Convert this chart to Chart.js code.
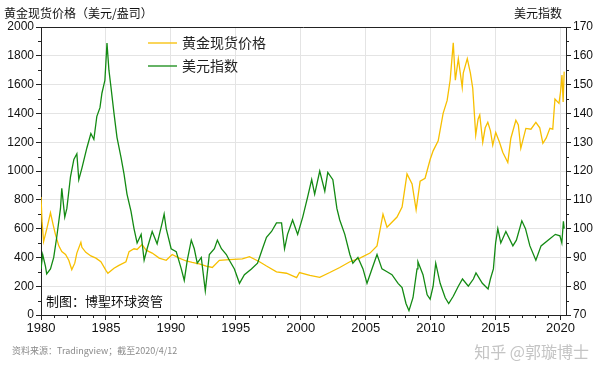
<!DOCTYPE html>
<html>
<head>
<meta charset="utf-8">
<script src="https://cdn.jsdelivr.net/npm/chart.js@4.4.0/dist/chart.umd.min.js"></script>
<style>
  html, body { margin: 0; padding: 0; background: #fff; }
  #wrap { width: 600px; height: 378px; position: relative; }
</style>
</head>
<body>
<div id="wrap"><canvas id="myChart" width="600" height="378"></canvas></div>
<script>
// gold spot price, USD/oz (left axis)
const goldYears = [1980.0, 1980.08, 1980.2, 1980.45, 1980.73, 1980.95, 1981.11, 1981.37, 1981.6, 1981.89,
  1982.14, 1982.37, 1982.6, 1982.76, 1983.07, 1983.15, 1983.45, 1983.84, 1984.23, 1984.61,
  1985.0, 1985.15, 1985.62, 1986.0, 1986.54, 1986.78, 1987.16, 1987.4, 1987.78, 1988.09,
  1988.56, 1989.1, 1989.64, 1990.1, 1990.64, 1991.18, 1991.64, 1992.18, 1992.72, 1993.19,
  1993.73, 1994.5, 1995.5, 1996.05, 1996.82, 1997.36, 1998.13, 1998.9, 1999.68, 1999.9,
  2000.7, 2001.46, 2002.23, 2003.0, 2003.78, 2004.55, 2005.33, 2005.87, 2006.33, 2006.64,
  2007.41, 2007.8, 2008.18, 2008.57, 2008.88, 2009.19, 2009.57, 2009.96, 2010.19, 2010.58,
  2010.96, 2011.27, 2011.5, 2011.74, 2011.9, 2012.13, 2012.43, 2012.51, 2012.82, 2013.06,
  2013.24, 2013.47, 2013.65, 2013.78, 2014.01, 2014.2, 2014.4, 2014.6, 2014.78, 2015.01,
  2015.3, 2015.55, 2015.94, 2016.17, 2016.56, 2016.75, 2016.94, 2017.33, 2017.72, 2018.1,
  2018.4, 2018.64, 2018.9, 2019.18, 2019.4, 2019.57, 2019.88, 2020.0, 2020.11, 2020.2, 2020.28];
const goldPrice = [820, 650, 510, 600, 710, 620, 560, 480, 440, 420,
  380, 315, 360, 430, 505, 470, 435, 410, 395, 370,
  310, 290, 325, 345, 370, 440, 460, 455, 490, 450,
  430, 395, 380, 420, 395, 375, 365, 355, 340, 330,
  380, 385, 390, 405, 370, 340, 300, 290, 260, 295,
  275, 262, 295, 330, 370, 395, 430, 480, 700, 610,
  680, 750, 980, 910, 730, 930, 950, 1080, 1140, 1210,
  1400, 1490, 1630, 1890, 1630, 1780, 1580, 1680, 1780, 1680,
  1575, 1250, 1360, 1390, 1200, 1300, 1338, 1280, 1180, 1268,
  1200, 1130, 1059, 1226, 1352, 1320, 1157, 1296, 1290, 1338,
  1300, 1192, 1230, 1296, 1290, 1500, 1470, 1550, 1666, 1480, 1690];

// US dollar index (right axis)
const usdYears = [1980.0, 1980.13, 1980.34, 1980.44, 1980.73, 1980.98, 1981.21, 1981.5, 1981.6, 1981.83,
  1981.99, 1982.27, 1982.53, 1982.76, 1982.91, 1983.15, 1983.53, 1983.84, 1984.07, 1984.3,
  1984.54, 1984.69, 1984.92, 1985.08, 1985.23, 1985.39, 1985.62, 1985.85, 1986.16, 1986.39,
  1986.62, 1986.93, 1987.16, 1987.4, 1987.71, 1987.94, 1988.17, 1988.56, 1988.94, 1989.33,
  1989.48, 1989.64, 1990.02, 1990.41, 1990.8, 1991.03, 1991.26, 1991.57, 1991.8, 1992.03,
  1992.34, 1992.65, 1992.96, 1993.35, 1993.58, 1993.89, 1994.27, 1994.5, 1994.89, 1995.28,
  1995.66, 1996.2, 1996.67, 1997.05, 1997.36, 1997.75, 1998.13, 1998.52, 1998.75, 1998.98,
  1999.37, 1999.76, 2000.15, 2000.53, 2000.84, 2001.07, 2001.46, 2001.85, 2002.08, 2002.47,
  2002.78, 2003.0, 2003.39, 2003.78, 2004.01, 2004.4, 2004.79, 2005.1, 2005.48, 2005.87,
  2006.25, 2006.64, 2007.02, 2007.49, 2007.8, 2008.1, 2008.33, 2008.64, 2008.95, 2009.02,
  2009.41, 2009.73, 2009.96, 2010.19, 2010.39, 2010.73, 2011.12, 2011.39, 2011.74, 2012.13,
  2012.45, 2012.9, 2013.29, 2013.49, 2013.98, 2014.42, 2014.6, 2014.83, 2015.0, 2015.17,
  2015.4, 2015.79, 2016.33, 2016.6, 2017.02, 2017.3, 2017.64, 2018.1, 2018.5, 2019.18,
  2019.6, 2019.95, 2020.1, 2020.22, 2020.28];
const usdIndex = [86, 91, 87, 84.3, 86, 90, 97, 107, 114, 104,
  107, 118, 124, 126, 117, 121, 128, 133, 131, 139,
  142, 147, 151.5, 164.4, 155, 149, 140, 131.7, 124.7, 119,
  112, 106, 100, 95, 98, 89, 93, 99, 94.7, 102,
  105, 100, 93, 92, 86, 82, 89, 96, 93, 88,
  90, 78.4, 91, 93, 96, 93, 91, 89, 86, 81,
  84, 86, 88, 93, 97, 99, 102, 102, 93, 98,
  103, 98, 104, 111, 117, 112, 120, 113, 119.5, 117,
  107, 103, 98, 91, 88, 90, 86, 81, 86, 91,
  86, 85, 84, 81, 79.5, 74, 71.5, 76, 86, 88.5,
  84, 77, 75.5, 80, 88, 81, 76, 74, 76.5, 80,
  82.5, 80, 82.5, 84.6, 81, 79, 82.5, 86, 95, 100,
  95, 99, 94, 96, 102.7, 100, 94, 89, 94, 96.5,
  98, 97.5, 95, 102.5, 100];

const goldLabel = '黄金现货价格';
const usdLabel = '美元指数';
const goldColor = '#f7bf00';
const usdColor = '#138a13';

const numFont = 'Liberation Sans, Arial, sans-serif';
const cjkFont = '"Noto Sans CJK SC", sans-serif';

// titles, legend, notes and minor ticks
const extras = {
  id: 'extras',
  afterDraw(chart) {
    const ctx = chart.ctx;
    const a = chart.chartArea;
    const sx = chart.scales.x, sy = chart.scales.y, sy2 = chart.scales.y2;
    ctx.save();

    // top frame line
    ctx.strokeStyle = '#222';
    ctx.lineWidth = 1;
    ctx.beginPath();
    ctx.moveTo(a.left, Math.round(a.top) + 0.5);
    ctx.lineTo(a.right, Math.round(a.top) + 0.5);
    ctx.stroke();

    // minor ticks
    ctx.beginPath();
    for (let yr = 1981; yr <= 2020; yr++) {
      if (yr % 5 === 0) continue;
      const px = Math.round(sx.getPixelForValue(yr)) + 0.5;
      ctx.moveTo(px, a.bottom);
      ctx.lineTo(px, a.bottom + 3);
    }
    for (let v = 100; v < 2000; v += 200) {
      const py = Math.round(sy.getPixelForValue(v)) + 0.5;
      ctx.moveTo(a.left - 3, py);
      ctx.lineTo(a.left, py);
    }
    for (let v = 75; v < 170; v += 10) {
      const py = Math.round(sy2.getPixelForValue(v)) + 0.5;
      ctx.moveTo(a.right, py);
      ctx.lineTo(a.right + 3, py);
    }
    ctx.stroke();

    // axis titles
    ctx.fillStyle = '#111';
    ctx.font = '12px ' + cjkFont;
    ctx.textBaseline = 'middle';
    ctx.textAlign = 'left';
    ctx.fillText('黄金现货价格（美元/盎司）', 4, 13);
    ctx.textAlign = 'right';
    ctx.fillText('美元指数', 562, 13);

    // legend
    ctx.textAlign = 'left';
    ctx.font = '14px ' + cjkFont;
    const items = [[goldLabel, goldColor, 43], [usdLabel, usdColor, 66]];
    items.forEach(([txt, col, y]) => {
      ctx.strokeStyle = col;
      ctx.lineWidth = 1.3;
      ctx.beginPath();
      ctx.moveTo(148, y);
      ctx.lineTo(177, y);
      ctx.stroke();
      ctx.fillStyle = '#222';
      ctx.fillText(txt, 182, y);
    });

    // maker note inside plot
    ctx.font = '13px ' + cjkFont;
    ctx.fillStyle = '#111';
    ctx.fillText('制图：博聖环球资管', 46, 301);

    // source line and watermark
    ctx.font = '9px ' + cjkFont;
    ctx.fillStyle = '#8a8a8a';
    ctx.fillText('资料来源：Tradingview；截至2020/4/12', 12, 351);
    ctx.font = '16px ' + cjkFont;
    ctx.fillStyle = '#c4c4c4';
    ctx.textAlign = 'right';
    ctx.fillText('知乎 @郭璇博士', 589, 352);

    ctx.restore();
  }
};

const ctx = document.getElementById('myChart').getContext('2d');
new Chart(ctx, {
  type: 'line',
  data: {
    datasets: [
      {
        label: goldLabel,
        data: goldYears.map((x, i) => ({ x: x, y: goldPrice[i] })),
        borderColor: goldColor,
        borderWidth: 1.3,
        pointRadius: 0,
        tension: 0,
        yAxisID: 'y',
        order: 2
      },
      {
        label: usdLabel,
        data: usdYears.map((x, i) => ({ x: x, y: usdIndex[i] })),
        borderColor: usdColor,
        borderWidth: 1.3,
        pointRadius: 0,
        tension: 0,
        yAxisID: 'y2',
        order: 1
      }
    ]
  },
  options: {
    responsive: false,
    animation: false,
    devicePixelRatio: 1,
    layout: { padding: { top: 27, left: 0, right: 0, bottom: 0 } },
    plugins: {
      legend: { display: false },
      tooltip: { enabled: false }
    },
    scales: {
      x: {
        type: 'linear',
        min: 1980,
        max: 2020.42,
        afterFit: (s) => { s.height = 63; },
        grid: { color: '#e4e4e4', tickColor: '#222', tickLength: 5 },
        border: { color: '#222', width: 1 },
        ticks: {
          stepSize: 5,
          includeBounds: false,
          autoSkip: false,
          maxRotation: 0,
          padding: 1,
          color: '#111',
          font: { family: numFont, size: 13 },
          callback: (v) => String(v)
        }
      },
      y: {
        position: 'left',
        min: 0,
        max: 2000,
        afterFit: (s) => { s.width = 41; },
        grid: { color: '#e4e4e4', tickColor: '#222', tickLength: 5 },
        border: { color: '#222', width: 1 },
        ticks: {
          stepSize: 200,
          padding: 2,
          color: '#111',
          font: { family: numFont, size: 12 },
          callback: (v) => String(v)
        }
      },
      y2: {
        position: 'right',
        min: 70,
        max: 170,
        afterFit: (s) => { s.width = 34; },
        grid: { drawOnChartArea: false, tickColor: '#222', tickLength: 5 },
        border: { color: '#222', width: 1 },
        ticks: {
          stepSize: 10,
          padding: 2,
          color: '#111',
          font: { family: numFont, size: 12 },
          callback: (v) => String(v)
        }
      }
    }
  },
  plugins: [extras]
});
</script>
</body>
</html>
